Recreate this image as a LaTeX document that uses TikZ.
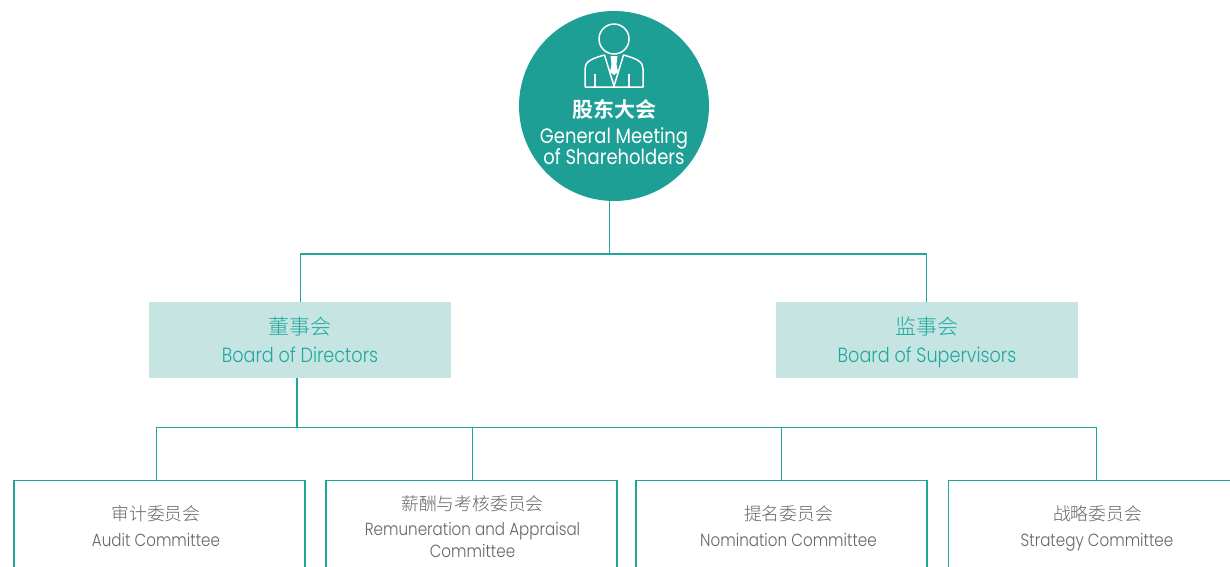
\documentclass[tikz,border=0pt]{standalone}
\usepackage{fontspec}
\setmainfont{Poppins Light}
\newfontfamily\cjk{Noto Sans CJK SC Light}
\newfontfamily\cjkb{Noto Sans CJK SC Bold}
\newfontfamily\lat[FakeStretch=0.86]{Poppins Light}
\newfontfamily\latw[FakeStretch=0.86]{Poppins}
\definecolor{teal1}{HTML}{1E9F95}
\definecolor{lin}{HTML}{22A599}
\definecolor{pale}{HTML}{C5E4E2}
\definecolor{tealt}{HTML}{1FA99E}
\definecolor{gr}{HTML}{666666}
\tikzset{
 wire/.style={draw=lin,line width=1.3pt},
 headbox/.style={fill=pale,minimum width=302pt,minimum height=76pt,inner sep=0pt,text=tealt,align=center},
 combox/.style={draw=lin,line width=1.3pt,fill=white,minimum width=291pt,minimum height=160pt,anchor=north,inner sep=0pt},
 lab/.style={inner sep=0pt,align=center,anchor=center},
 blab/.style={inner sep=0pt,anchor=base},
 icon/.style={draw=white,line width=1.5pt,line join=round}
}
\newcommand{\fsz}[1]{\fontsize{#1pt}{#1pt}\selectfont}
\begin{document}
\begin{tikzpicture}[x=1pt,y=-1pt]
\useasboundingbox (0,0) rectangle (1230,566);
\clip (0,0) rectangle (1230,566);
% main nodes
\node[circle,fill=teal1,minimum size=190pt,inner sep=0pt] (gm) at (614,106) {};
\node[headbox] (bd) at (300,340) {};
\node[headbox] (bs) at (927,340) {};
\node[combox] (c1) at (159.5,480) {};
\node[combox] (c2) at (471.5,480) {};
\node[combox] (c3) at (781.5,480) {};
\node[combox,minimum width=298pt] (c4) at (1097.5,480) {};
% connectors
\coordinate (gmb) at (609.5,201);
\coordinate (j1) at (609.5,254);
\coordinate (bdn) at (300.5,302);
\coordinate (bsn) at (926.5,302);
\coordinate (bdb) at (297,378);
\coordinate (j2) at (297,427.5);
\coordinate (n1) at (156.5,480);
\coordinate (n2) at (472.5,480);
\coordinate (n3) at (781.5,480);
\coordinate (n4) at (1096.5,480);
\draw[wire] (gmb) -- (j1);
\draw[wire] (bdn) |- (j1) -| (bsn);
\draw[wire] (bdb) -- (j2);
\draw[wire] (n1) |- (j2) -| (n2);
\draw[wire] (j2) -| (n3);
\draw[wire] (j2) -| (n4);
% icon
\begin{scope}[icon]
\draw (614,39) circle (15pt);
\draw (585,87) -- (585,69) .. controls (585,62) and (590,59) .. (604.5,55) -- (614,86) -- (623.5,55) .. controls (638,59) and (643,62) .. (643,69) -- (643,87) -- cycle;
\draw (595,87) -- (595,74);
\draw (629,87) -- (629,74);
\fill[white] (610.5,56) -- (617.5,56) -- (616.5,64) -- (618,72) -- (614,75) -- (610,72) -- (611.5,64) -- cycle;
\end{scope}
% labels
\node[lab,text=white] (t1) at (614,109) {\cjkb\fsz{21}股东大会};
\node[blab,text=white] (t2) at (614,143) {\latw\fsz{20.9}General Meeting};
\node[blab,text=white] (t3) at (614,164) {\latw\fsz{20.9}of Shareholders};
\node[lab,text=tealt] (t4) at (300,327) {\cjk\fsz{21}董事会};
\node[blab,text=tealt] (t5) at (300,362) {\lat\fsz{20.5}Board of Directors};
\node[lab,text=tealt] (t6) at (927,327) {\cjk\fsz{21}监事会};
\node[blab,text=tealt] (t7) at (927,362) {\lat\fsz{20.5}Board of Supervisors};
\node[lab,text=gr] (t8) at (156,514) {\cjk\fsz{17.8}审计委员会};
\node[blab,text=gr] (t9) at (156,546.5) {\lat\fsz{17.6}Audit Committee};
\node[lab,text=gr] (t10) at (472.5,504) {\cjk\fsz{17.8}薪酬与考核委员会};
\node[blab,text=gr] (t11) at (472.5,535.5) {\lat\fsz{17.6}Remuneration and Appraisal};
\node[blab,text=gr] (t12) at (472.5,557.5) {\lat\fsz{17.6}Committee};
\node[lab,text=gr] (t13) at (788.5,514) {\cjk\fsz{17.8}提名委员会};
\node[blab,text=gr] (t14) at (788.5,546.5) {\lat\fsz{17.6}Nomination Committee};
\node[lab,text=gr] (t15) at (1097.5,514) {\cjk\fsz{17.8}战略委员会};
\node[blab,text=gr] (t16) at (1097,546.5) {\lat\fsz{17.6}Strategy Committee};
\end{tikzpicture}
\end{document}
